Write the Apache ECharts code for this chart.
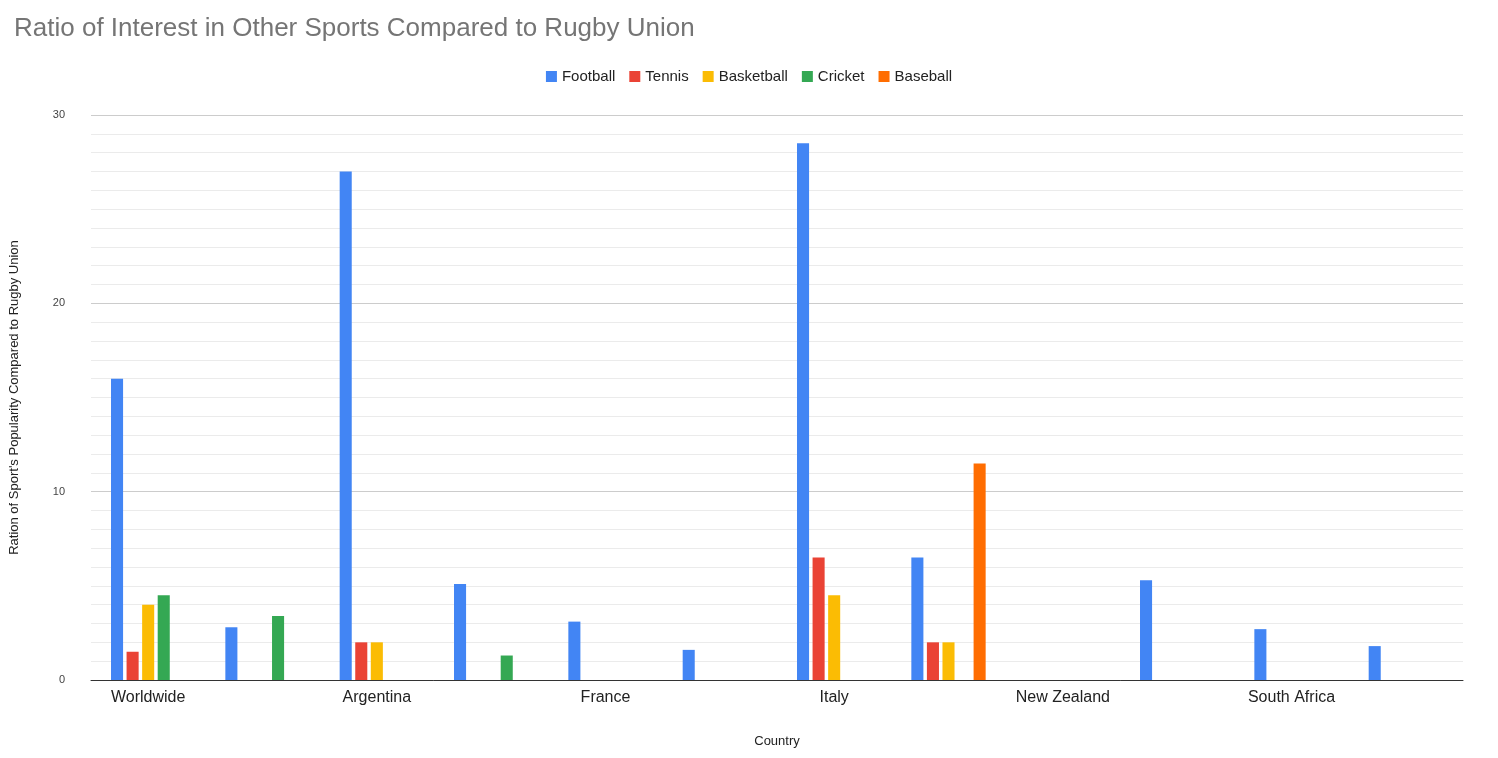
<!DOCTYPE html>
<html><head><meta charset="utf-8">
<script src="https://cdn.jsdelivr.net/npm/echarts@6/dist/echarts.min.js"></script>
<style>html,body{margin:0;padding:0;background:#fff}#c{width:1498px;height:758px}</style>
</head><body><div id="c"></div>
<script>
const categories = ["Worldwide","Australia","Argentina","England","France","Ireland","Italy","Japan","New Zealand","Scotland","South Africa","Wales"];
const football   = [16, 2.8, 27, 5.1, 3.1, 1.6, 28.5, 6.5, null, 5.3, 2.7, 1.8];
const tennis     = [1.5, null, 2, null, null, null, 6.5, 2, null, null, null, null];
const basketball = [4, null, 2, null, null, null, 4.5, 2, null, null, null, null];
const cricket    = [4.5, 3.4, null, 1.3, null, null, null, null, null, null, null, null];
const baseball   = [null, null, null, null, null, null, null, 11.5, null, null, null, null];
const yTicks = [0, 10, 20, 30];

const F = 'Liberation Sans, Arial, sans-serif';
const mk = (name, data, color) => ({name, type:'bar', data, itemStyle:{color}, barGap:'29%', barCategoryGap:'35%'});
const chart = echarts.init(document.getElementById('c'));
chart.setOption({
  animation:false,
  title:{text:'Ratio of Interest in Other Sports Compared to Rugby Union', left:9, top:11,
    textStyle:{color:'#757575', fontSize:26, fontWeight:'normal', fontFamily:F}},
  legend:{top:64, left:'center', icon:'rect', itemWidth:11, itemHeight:11, itemGap:14,
    textStyle:{fontSize:15, color:'#222', fontFamily:F}},
  grid:{left:89, right:35, top:115, bottom:78},
  xAxis:{type:'category', data:categories, name:'Country', nameLocation:'middle', nameGap:55,
    nameTextStyle:{fontSize:13, color:'#222', fontFamily:F},
    axisTick:{show:false}, axisLine:{lineStyle:{color:'#333'}},
    axisLabel:{fontSize:16, color:'#222', margin:10, fontFamily:F}},
  yAxis:{type:'value', min:yTicks[0], max:yTicks[yTicks.length-1], interval:10,
    name:"Ration of Sport's Popularity Compared to Rugby Union", nameLocation:'middle', nameGap:70,
    nameTextStyle:{fontSize:13, color:'#222', fontFamily:F},
    axisLabel:{fontSize:11, color:'#444', fontFamily:F, margin:26},
    splitLine:{lineStyle:{color:'#ccc'}},
    minorTick:{show:false, splitNumber:10},
    minorSplitLine:{show:true, lineStyle:{color:'#ebebeb'}}},
  series:[
    mk('Football', football, '#4285f4'),
    mk('Tennis', tennis, '#ea4335'),
    mk('Basketball', basketball, '#fbbc04'),
    mk('Cricket', cricket, '#34a853'),
    mk('Baseball', baseball, '#ff6d01')
  ]
});
</script></body></html>
